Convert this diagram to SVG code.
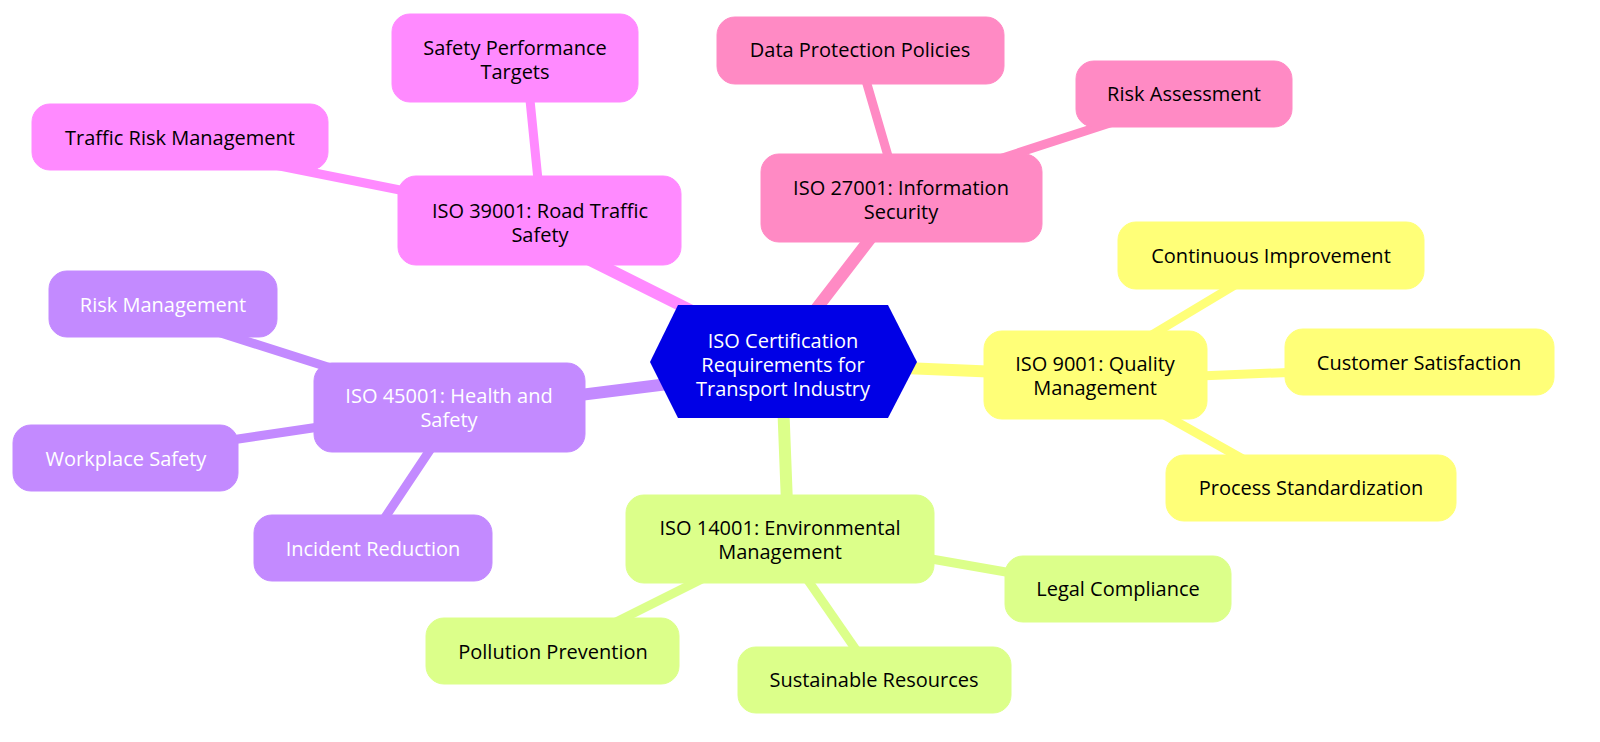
<svg xmlns="http://www.w3.org/2000/svg" width="1600" height="742" viewBox="0 0 1600 742">
<style>
text{font-family:"Open Sans","Noto Sans",sans-serif;font-size:20px;text-anchor:middle;dominant-baseline:central;fill:#000}
.w{fill:#fff}
line{stroke-linecap:round}
.m{stroke-width:12}.c{stroke-width:9}
.y{fill:#ffff78;stroke:#ffff78}.g{fill:#dcff8a;stroke:#dcff8a}.p{fill:#c38aff;stroke:#c38aff}.mg{fill:#ff8aff;stroke:#ff8aff}.pk{fill:#ff8ac4;stroke:#ff8ac4}
rect{stroke:none}
</style>
<rect width="1600" height="742" fill="#fff"/>
<g id="connectors">
<line class="m mg" x1="560" y1="245" x2="720" y2="325"/>
<line class="m pk" x1="900" y1="200" x2="800" y2="330"/>
<line class="m p" x1="500" y1="405" x2="700" y2="380"/>
<line class="m y" x1="880" y1="367" x2="1050" y2="374"/>
<line class="m g" x1="783" y1="400" x2="788" y2="530"/>
<line class="c mg" x1="528" y1="80" x2="540" y2="200"/>
<line class="c mg" x1="250" y1="160" x2="450" y2="200"/>
<line class="c pk" x1="860" y1="60" x2="895" y2="180"/>
<line class="c pk" x1="950" y1="175" x2="1150" y2="110"/>
<line class="c y" x1="1110" y1="360" x2="1260" y2="270"/>
<line class="c y" x1="1150" y1="378" x2="1350" y2="370"/>
<line class="c y" x1="1120" y1="390" x2="1280" y2="480"/>
<line class="c g" x1="880" y1="550" x2="1080" y2="585"/>
<line class="c g" x1="780" y1="540" x2="870" y2="670"/>
<line class="c g" x1="760" y1="550" x2="560" y2="650"/>
<line class="c p" x1="180" y1="320" x2="400" y2="390"/>
<line class="c p" x1="130" y1="455" x2="400" y2="415"/>
<line class="c p" x1="450" y1="420" x2="370" y2="540"/>
</g>
<g id="center"><polygon points="650,362 678,305 888,305 917,362 888,418 678,418" fill="#0000e6"/>
<text class="w" x="783" y="340">ISO Certification</text><text class="w" x="783" y="364">Requirements for</text><text class="w" x="783" y="388">Transport Industry</text></g>
<g id="iso39001"><rect class="mg" x="398" y="176" width="283" height="89" rx="18"/><text x="540" y="210">ISO 39001: Road Traffic</text><text x="540" y="234">Safety</text></g>
<g id="spt"><rect class="mg" x="392" y="14" width="246" height="88" rx="18"/><text x="515" y="47">Safety Performance</text><text x="515" y="71">Targets</text></g>
<g id="trm"><rect class="mg" x="32" y="104" width="296" height="66" rx="18"/><text x="180" y="137">Traffic Risk Management</text></g>
<g id="iso27001"><rect class="pk" x="761" y="154" width="281" height="88" rx="18"/><text x="901" y="187">ISO 27001: Information</text><text x="901" y="211">Security</text></g>
<g id="dpp"><rect class="pk" x="717" y="17" width="287" height="67" rx="18"/><text x="860" y="49">Data Protection Policies</text></g>
<g id="ra"><rect class="pk" x="1076" y="61" width="216" height="66" rx="18"/><text x="1184" y="93">Risk Assessment</text></g>
<g id="iso9001"><rect class="y" x="984" y="331" width="223" height="88" rx="18"/><text x="1095" y="363">ISO 9001: Quality</text><text x="1095" y="387">Management</text></g>
<g id="ci"><rect class="y" x="1118" y="222" width="306" height="67" rx="18"/><text x="1271" y="255">Continuous Improvement</text></g>
<g id="cs"><rect class="y" x="1285" y="329" width="269" height="66" rx="18"/><text x="1419" y="362">Customer Satisfaction</text></g>
<g id="ps"><rect class="y" x="1166" y="455" width="290" height="66" rx="18"/><text x="1311" y="487">Process Standardization</text></g>
<g id="iso14001"><rect class="g" x="626" y="495" width="308" height="88" rx="18"/><text x="780" y="527">ISO 14001: Environmental</text><text x="780" y="551">Management</text></g>
<g id="lc"><rect class="g" x="1005" y="556" width="226" height="66" rx="18"/><text x="1118" y="588">Legal Compliance</text></g>
<g id="sr"><rect class="g" x="738" y="647" width="273" height="66" rx="18"/><text x="874" y="679">Sustainable Resources</text></g>
<g id="pp"><rect class="g" x="426" y="618" width="253" height="66" rx="18"/><text x="553" y="651">Pollution Prevention</text></g>
<g id="iso45001"><rect class="p" x="314" y="363" width="271" height="89" rx="18"/><text class="w" x="449" y="395">ISO 45001: Health and</text><text class="w" x="449" y="419">Safety</text></g>
<g id="rm"><rect class="p" x="49" y="271" width="228" height="66" rx="18"/><text class="w" x="163" y="304">Risk Management</text></g>
<g id="ws"><rect class="p" x="13" y="425" width="225" height="66" rx="18"/><text class="w" x="126" y="458">Workplace Safety</text></g>
<g id="ir"><rect class="p" x="254" y="515" width="238" height="66" rx="18"/><text class="w" x="373" y="548">Incident Reduction</text></g>
</svg>
